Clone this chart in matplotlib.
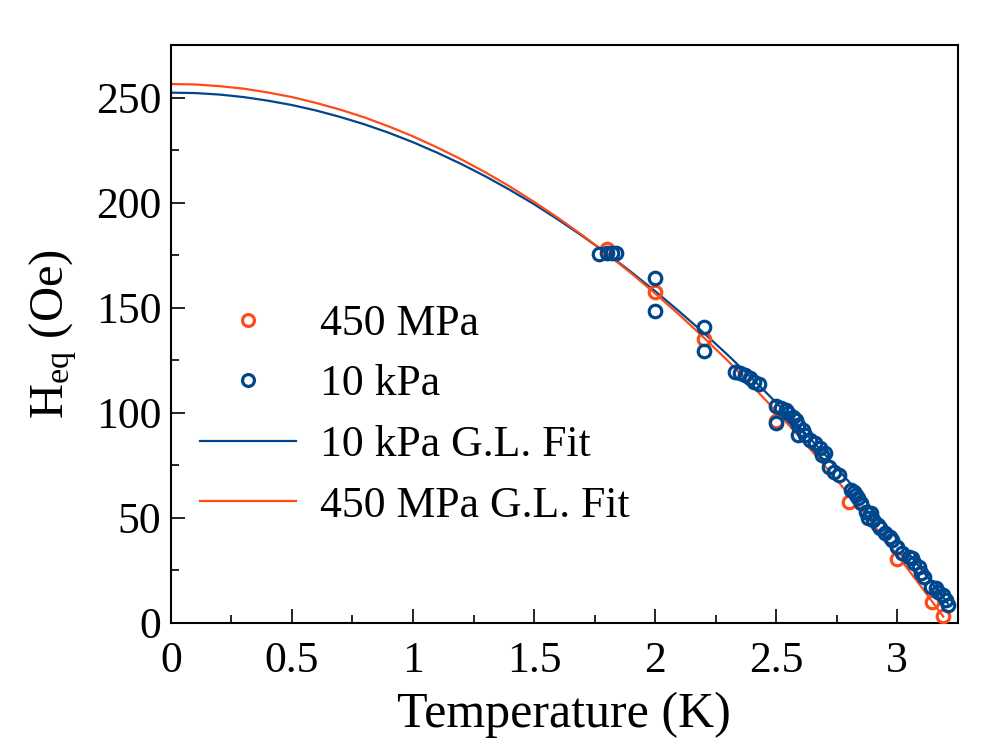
import matplotlib
matplotlib.use("Agg")
import matplotlib.pyplot as plt
from matplotlib.ticker import MultipleLocator, FormatStrFormatter

plt.rcParams['font.family'] = ['Liberation Serif', 'DejaVu Serif']
plt.rcParams['mathtext.fontset'] = 'custom'
plt.rcParams['mathtext.rm'] = 'Liberation Serif'
plt.rcParams['mathtext.it'] = 'Liberation Serif:italic'

RED = '#ff4a1a'
BLUE = '#00468c'

# measured points, 450 MPa
t_450 = [1.80, 2.00, 2.20, 2.50, 2.80, 3.00, 3.145, 3.19]
h_450 = [178.0, 157.5, 135.0, 96.0, 57.5, 30.5, 10.0, 3.0]

# measured points, 10 kPa
t_10k = [1.77, 1.80, 1.82, 1.84, 2.00, 2.00, 2.20, 2.20,
         2.33, 2.35, 2.37, 2.39, 2.41, 2.43, 2.50, 2.50,
         2.52, 2.54, 2.55, 2.57, 2.58, 2.59, 2.61, 2.59,
         2.62, 2.64, 2.66, 2.68, 2.70, 2.69, 2.72, 2.74,
         2.76, 2.81, 2.82, 2.83, 2.84, 2.85, 2.87, 2.89,
         2.88, 2.90, 2.92, 2.93, 2.95, 2.97, 2.98, 3.00,
         3.02, 3.05, 3.06, 3.07, 3.09, 3.10, 3.11, 3.14,
         3.16, 3.17, 3.19, 3.20, 3.21]
h_10k = [175.5, 176.0, 176.0, 176.0, 164.0, 148.5, 141.0, 129.5,
         119.5, 118.8, 117.9, 116.4, 114.5, 113.6, 103.2, 95.0,
         102.2, 101.2, 99.8, 97.9, 96.5, 94.1, 91.7, 89.4,
         89.4, 87.0, 85.6, 83.2, 80.8, 79.8, 74.1, 71.8,
         70.3, 63.2, 62.3, 60.8, 59.4, 57.0, 52.8, 52.3,
         49.9, 49.0, 46.6, 45.2, 42.8, 40.9, 39.5, 36.1,
         33.3, 31.4, 30.9, 28.5, 26.6, 23.8, 21.9, 17.1,
         16.6, 14.7, 13.3, 10.9, 8.6]

# G.L. fit curves
t_fit_10k = [0.0, 0.1, 0.2, 0.3, 0.4, 0.5, 0.6, 0.7, 0.8, 0.9, 1.0,
             1.1, 1.2, 1.3, 1.4, 1.5, 1.6, 1.7, 1.8, 1.9, 2.0,
             2.1, 2.2, 2.3, 2.4, 2.5, 2.6, 2.7, 2.8, 2.9, 3.0,
             3.1, 3.2, 3.21]
fit_10k = [252.4, 252.2, 251.5, 250.3, 248.6, 246.5, 243.9, 240.8, 237.3, 233.3, 228.8,
           223.8, 218.4, 212.5, 206.1, 199.3, 191.9, 184.1, 175.9, 167.1, 157.9,
           148.2, 138.1, 127.5, 116.4, 104.8, 92.7, 80.2, 67.2, 53.8, 39.8,
           25.4, 10.5, 9.0]
t_fit_450 = [0.0, 0.1, 0.2, 0.3, 0.4, 0.5, 0.6, 0.7, 0.8, 0.9, 1.0,
             1.1, 1.2, 1.3, 1.4, 1.5, 1.6, 1.7, 1.8, 1.9, 2.0,
             2.1, 2.2, 2.3, 2.4, 2.5, 2.6, 2.7, 2.8, 2.9, 3.0,
             3.1, 3.19]
fit_450 = [256.5, 256.3, 255.5, 254.3, 252.5, 250.3, 247.5, 244.3, 240.6, 236.3, 231.6,
           226.3, 220.6, 214.4, 207.7, 200.4, 192.7, 184.5, 175.7, 166.5, 156.8,
           146.6, 135.9, 124.7, 112.9, 100.7, 88.0, 74.8, 61.1, 46.9, 32.2,
           17.0, 2.9]

fig = plt.figure(figsize=(10.05, 7.53), dpi=100)
ax = fig.add_axes([0.170, 0.173, 0.783, 0.767])

ax.plot(t_450, h_450, 'o', ms=9, mfc='none', mec=RED, mew=2.3, label='450 MPa', zorder=3)
ax.plot(t_10k, h_10k, 'o', ms=9, mfc='none', mec=BLUE, mew=2.3, label='10 kPa', zorder=3)
ax.plot(t_fit_10k, fit_10k, '-', color=BLUE, lw=1.6, label='10 kPa G.L. Fit', zorder=2)
ax.plot(t_fit_450, fit_450, '-', color=RED, lw=1.6, label='450 MPa G.L. Fit', zorder=2)

ax.set_xlim(0, 3.25)
ax.set_ylim(0, 275)
ax.xaxis.set_major_locator(MultipleLocator(0.5))
ax.xaxis.set_minor_locator(MultipleLocator(0.25))
ax.yaxis.set_major_locator(MultipleLocator(50))
ax.yaxis.set_minor_locator(MultipleLocator(25))
ax.xaxis.set_major_formatter(FormatStrFormatter('%g'))
ax.yaxis.set_major_formatter(FormatStrFormatter('%g'))

ax.tick_params(which='both', direction='in', top=False, right=False, labelsize=31.5, width=1.2)
ax.tick_params(which='major', length=10)
ax.tick_params(which='minor', length=5.5)
ax.tick_params(axis='x', which='major', pad=13)
ax.tick_params(axis='y', which='major', pad=7)
for sp in ax.spines.values():
    sp.set_linewidth(1.5)

ax.set_xlabel('Temperature (K)', fontsize=36, labelpad=8)
ax.set_ylabel(r'H$_{\mathrm{eq}}$ (Oe)', fontsize=35, labelpad=12)

ax.legend(loc='upper left', bbox_to_anchor=(0.037, 0.552), frameon=False,
          fontsize=31.5, handlelength=2.19, handletextpad=0.55, labelspacing=0.47,
          borderpad=0, borderaxespad=0, markerscale=0.95)

fig.savefig('out.png', dpi=100)
